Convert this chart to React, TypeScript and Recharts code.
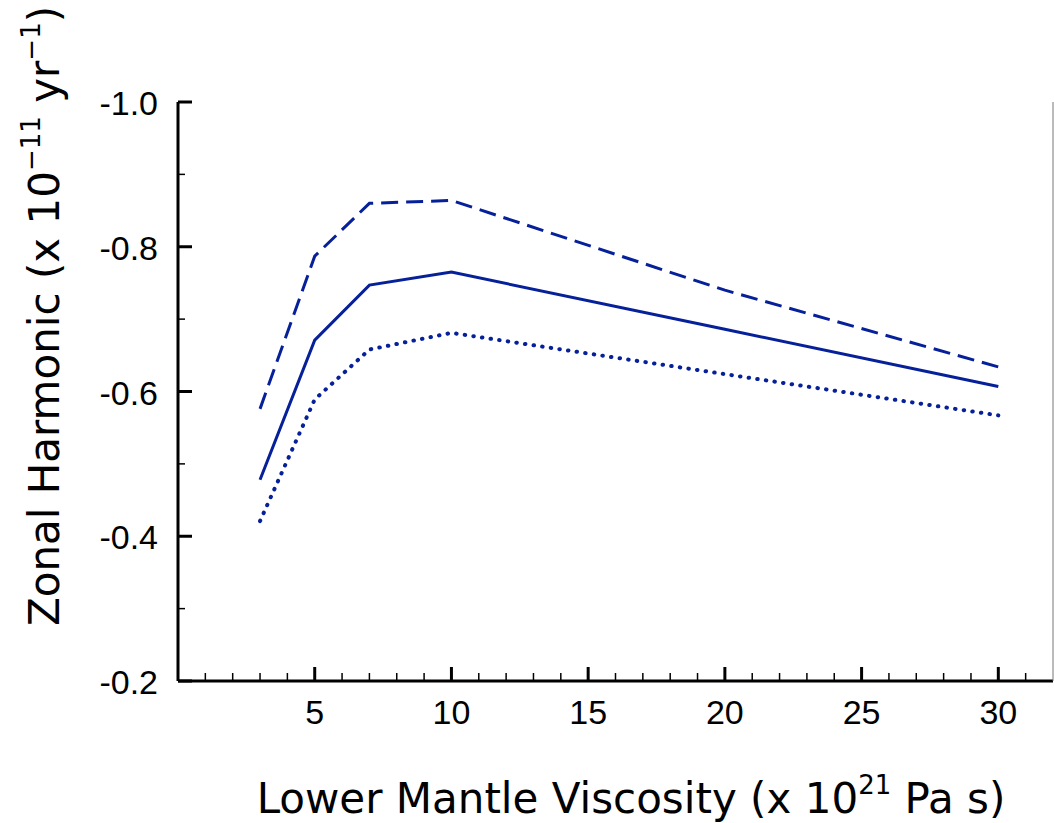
import React from 'react';
import { LineChart, Line, XAxis, YAxis } from 'recharts';

// lower mantle viscosity (x 10^21 Pa s)
const viscosity = [3, 5, 7, 10, 20, 30];
// zonal harmonic rate (x 10^-11 / yr) for three cases
const dashedCase = [-0.576, -0.787, -0.86, -0.864, -0.74, -0.634];
const solidCase = [-0.478, -0.671, -0.747, -0.765, -0.686, -0.607];
const dottedCase = [-0.421, -0.589, -0.658, -0.681, -0.624, -0.567];

const xTicks = [1, 2, 3, 4, 5, 6, 7, 8, 9, 10, 11, 12, 13, 14, 15, 16, 17, 18, 19, 20, 21, 22, 23, 24, 25, 26, 27, 28, 29, 30, 31];
const xMajor = [5, 10, 15, 20, 25, 30];
const yTicks = [-1.0, -0.9, -0.8, -0.7, -0.6, -0.5, -0.4, -0.3, -0.2];
const yMajor = ['-1.0', '-0.8', '-0.6', '-0.4', '-0.2'];
const rightTicks = [0.5, 1, 1.5, 2, 2.5, 3, 3.5, 4];

const data = viscosity.map((v, i) => ({
  x: v,
  dashed: dashedCase[i],
  solid: solidCase[i],
  dotted: dottedCase[i],
}));

const BLUE = '#06209a';
const TICK_FONT = '"Liberation Sans", Arial, sans-serif';
const TITLE_FONT = '"DejaVu Sans", sans-serif';

function XTick(props: any) {
  const { x, y, payload } = props;
  const major = xMajor.includes(payload.value);
  return (
    <g>
      <line x1={x} y1={y} x2={x} y2={y - (major ? 14 : 8)} stroke="#000" strokeWidth={major ? 3 : 1.5} />
      {major && (
        <text x={x} y={y + 43} textAnchor="middle" fontFamily={TICK_FONT} fontSize={34} fill="#000">
          {payload.value}
        </text>
      )}
    </g>
  );
}

function YTick(props: any) {
  const { x, y, payload } = props;
  const label = Number(payload.value).toFixed(1);
  const major = yMajor.includes(label);
  return (
    <g>
      <line x1={x} y1={y} x2={x + (major ? 14 : 7)} y2={y} stroke="#000" strokeWidth={major ? 3 : 1.5} />
      {major && (
        <text x={x - 20} y={y + 13} textAnchor="end" fontFamily={TICK_FONT} fontSize={34} fill="#000">
          {label}
        </text>
      )}
    </g>
  );
}

function RightTick(props: any) {
  const { x, y, payload } = props;
  const major = Number.isInteger(payload.value);
  return <line x1={x} y1={y} x2={x - (major ? 13 : 6)} y2={y} stroke="#000" strokeWidth={major ? 3 : 1.5} />;
}

const supStyle = { fontSize: 26, verticalAlign: '0.7em' };

export default function App() {
  return (
    <div style={{ position: 'absolute', left: 0, top: 0, width: 1054, height: 823, background: '#fff' }}>
      <LineChart width={1054} height={823} data={data} margin={{ top: 102, right: 0, bottom: 0, left: 0 }}>
        <XAxis
          dataKey="x"
          type="number"
          domain={[0, 32]}
          ticks={xTicks}
          interval={0}
          height={142}
          tickSize={0}
          tickMargin={0}
          tickLine={false}
          tick={<XTick />}
          axisLine={{ stroke: '#000', strokeWidth: 3 }}
        />
        <XAxis
          xAxisId="top"
          orientation="top"
          type="number"
          domain={[0, 32]}
          height={0}
          tick={false}
          tickLine={false}
          axisLine={{ stroke: '#000', strokeWidth: 3 }}
        />
        <YAxis
          type="number"
          domain={[-1.0, -0.2]}
          reversed
          ticks={yTicks}
          interval={0}
          width={178}
          tickSize={0}
          tickMargin={0}
          tickLine={false}
          tick={<YTick />}
          axisLine={{ stroke: '#000', strokeWidth: 3 }}
        />
        <YAxis
          yAxisId="right"
          orientation="right"
          type="number"
          domain={[0, 4.2]}
          ticks={rightTicks}
          interval={0}
          width={1}
          tickSize={0}
          tickMargin={0}
          tickLine={false}
          tick={<RightTick />}
          axisLine={{ stroke: '#777', strokeWidth: 1 }}
        />
        <Line type="linear" dataKey="dashed" stroke={BLUE} strokeWidth={3} strokeDasharray="17 8" dot={false} activeDot={false} isAnimationActive={false} />
        <Line type="linear" dataKey="solid" stroke={BLUE} strokeWidth={3} dot={false} activeDot={false} isAnimationActive={false} />
        <Line type="linear" dataKey="dotted" stroke={BLUE} strokeWidth={4} strokeDasharray="0.5 8.2" strokeLinecap="round" dot={false} activeDot={false} isAnimationActive={false} />
      </LineChart>
      <div
        style={{
          position: 'absolute',
          left: 42,
          top: 316,
          transform: 'translate(-50%, -50%) rotate(-90deg)',
          whiteSpace: 'nowrap',
          fontFamily: TITLE_FONT,
          fontSize: 42,
          color: '#000',
          lineHeight: 1,
        }}
      >
        Zonal Harmonic (x 10<span style={supStyle}>−11</span> yr<span style={supStyle}>−1</span>)
      </div>
      <div
        style={{
          position: 'absolute',
          left: 631,
          top: 796,
          transform: 'translate(-50%, -50%)',
          whiteSpace: 'nowrap',
          fontFamily: TITLE_FONT,
          fontSize: 42,
          color: '#000',
          lineHeight: 1,
        }}
      >
        Lower Mantle Viscosity (x 10<span style={supStyle}>21</span> Pa s)
      </div>
    </div>
  );
}
